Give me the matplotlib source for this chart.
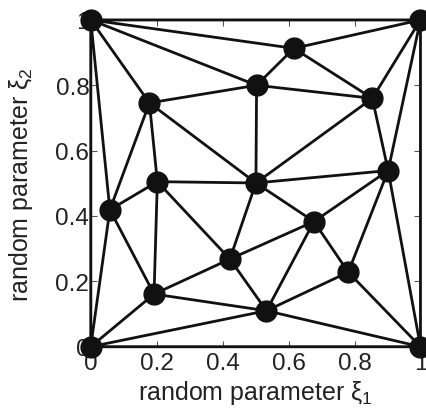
import numpy as np
import matplotlib
matplotlib.use("Agg")
import matplotlib.pyplot as plt
import matplotlib.tri as mtri

plt.rcParams['font.family'] = ['Liberation Sans', 'DejaVu Sans']
plt.rcParams['mathtext.fontset'] = 'custom'
plt.rcParams['mathtext.rm'] = 'Liberation Sans'
plt.rcParams['mathtext.it'] = 'Liberation Sans'

# sample points (xi_1, xi_2)
xi1 = [0.0, 1.0, 1.0, 0.0, 0.616, 0.503, 0.178, 0.854, 0.902, 0.202,
       0.501, 0.058, 0.677, 0.422, 0.781, 0.192, 0.533]
xi2 = [0.0, 0.0, 1.0, 1.0, 0.913, 0.800, 0.746, 0.760, 0.539, 0.505,
       0.501, 0.419, 0.383, 0.268, 0.228, 0.161, 0.110]

# triangles (indices into the point lists)
triangles = [
    [3, 2, 4], [3, 4, 5], [3, 5, 6], [3, 6, 11], [3, 11, 0],
    [4, 5, 7], [4, 7, 2], [2, 7, 8], [2, 8, 1],
    [5, 6, 10], [5, 10, 7], [7, 10, 8],
    [6, 9, 10], [6, 11, 9], [11, 9, 15], [11, 15, 0],
    [9, 15, 13], [9, 13, 10], [10, 13, 12], [10, 12, 8],
    [8, 12, 14], [8, 14, 1], [12, 13, 16], [12, 16, 14],
    [14, 16, 1], [13, 15, 16], [15, 0, 16], [0, 16, 1],
]

ticks = [0, 0.2, 0.4, 0.6, 0.8, 1]
tick_labels = ['0', '0.2', '0.4', '0.6', '0.8', '1']

fig = plt.figure(figsize=(4.26, 4.10), dpi=100)
ax = fig.add_axes([0.213, 0.152, 0.774, 0.797])

tri = mtri.Triangulation(xi1, xi2, triangles)
ax.triplot(tri, color='#111111', lw=2.0, clip_on=False, zorder=3)
ax.plot(xi1, xi2, 'o', color='#111111', ms=15, clip_on=False, zorder=4)

ax.set_xlim(0, 1)
ax.set_ylim(0, 1)
ax.set_xticks(ticks)
ax.set_xticklabels(tick_labels)
ax.set_yticks(ticks)
ax.set_yticklabels(tick_labels)
ax.tick_params(direction='in', top=True, right=True, length=4, width=0.8,
               color='#555555', labelsize=17.5, labelcolor='#222222')
ax.tick_params(axis='x', pad=4)
ax.tick_params(axis='y', pad=1)
for s in ax.spines.values():
    s.set_color('#666666')
    s.set_linewidth(1.0)

ax.set_xlabel(r'random parameter $\xi_1$', fontsize=18, color='#222222')
ax.set_ylabel(r'random parameter $\xi_2$', fontsize=18, color='#222222')
ax.xaxis.set_label_coords(0.5, -0.095)
ax.yaxis.set_label_coords(-0.17, 0.5)

fig.savefig('out.png', dpi=100)
